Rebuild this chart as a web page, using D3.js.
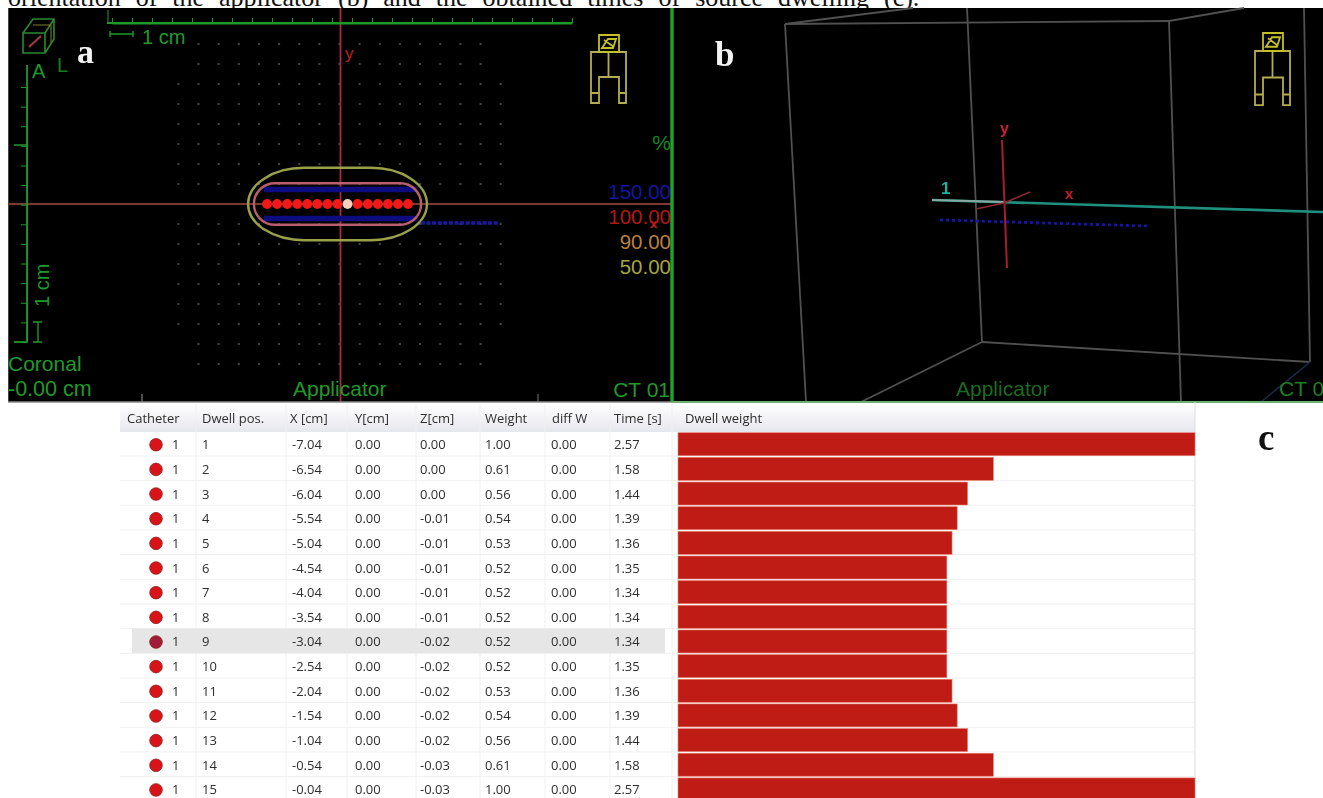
<!DOCTYPE html>
<html><head><meta charset="utf-8">
<script src="https://cdnjs.cloudflare.com/ajax/libs/d3/7.8.5/d3.min.js"></script>
<style>
html,body{margin:0;padding:0;background:#fff;overflow:hidden}
svg{display:block}
.soft{filter:blur(0.7px)}
</style></head><body>
<svg id="c" width="1323" height="798"></svg>
<script>
const caption = "orientation of the applicator (b) and the obtained times of source dwelling (c).";
const headers = ["Catheter","Dwell pos.","X [cm]","Y[cm]","Z[cm]","Weight","diff W","Time [s]","Dwell weight"];
const dwellPos = [1,2,3,4,5,6,7,8,9,10,11,12,13,14,15];
const xCm = [-7.04,-6.54,-6.04,-5.54,-5.04,-4.54,-4.04,-3.54,-3.04,-2.54,-2.04,-1.54,-1.04,-0.54,-0.04];
const yCm = [0,0,0,0,0,0,0,0,0,0,0,0,0,0,0];
const zCm = [0,0,0,-0.01,-0.01,-0.01,-0.01,-0.01,-0.02,-0.02,-0.02,-0.02,-0.02,-0.03,-0.03];
const weight = [1,0.61,0.56,0.54,0.53,0.52,0.52,0.52,0.52,0.52,0.53,0.54,0.56,0.61,1];
const diffW = [0,0,0,0,0,0,0,0,0,0,0,0,0,0,0];
const timeS = [2.57,1.58,1.44,1.39,1.36,1.35,1.34,1.34,1.34,1.35,1.36,1.39,1.44,1.58,2.57];
const selectedDwell = 9;
const doseLabels = ["150.00","100.00","90.00","50.00"];
const doseColors = ["#1414a0","#b01818","#b88040","#a4a444"];
const contourLevels = ["100","50"];
const contourLeft = [-7.69,-7.98];
const contourRight = [0.61,0.9];
const contourHalf = [1.04,1.81];
const contourColors = ["#b86070","#98a048"];
const band150Left = -7.2, band150Right = 0.4, band150Half = 0.72;
const rulerCm = d3.range(0,24);
const sideCm = d3.range(0,14);

const svg = d3.select("#c");
const G = "#1f9a2a";

// scales
const xA = d3.scaleLinear().domain([-7.04,-0.04]).range([267,408]);
const yA = d3.scaleLinear().domain([0,1]).range([204,184]);
const rulerX = d3.scaleLinear().domain([0,23]).range([112,572]);
const rulerY = d3.scaleLinear().domain([0,13]).range([87,342]);
const barX = d3.scaleLinear().domain([0,1]).range([678,1195]);
const rowY = d3.scaleBand().domain(dwellPos).range([432,432+24.64*15]).paddingInner(0.07).paddingOuter(0.03);

// caption
svg.append("text").attr("x",8).attr("y",6).attr("font-family","Liberation Serif").attr("font-size",26)
  .attr("word-spacing",8.5).attr("fill","#111").text(caption);

const root = svg.append("g").attr("class","soft");

// black panel
root.append("rect").attr("x",8).attr("y",8).attr("width",1315).attr("height",394).attr("fill","#000");
root.append("line").attr("x1",8.5).attr("x2",8.5).attr("y1",8).attr("y2",402).attr("stroke","#444");

/* ---------- panel a ---------- */
const a = root.append("g");
// dot grid
const gridX = d3.range(-10,9), gridY = d3.range(-8,9);
gridY.forEach(r=>gridX.forEach(c=>{
  const px = xA(-3.44+c*1), py = yA(0)+r*(-20);
  if(px<163||px>520) return;
  if(Math.abs(r)>=7 && Math.abs(c)>7) return;
  if(py<44||py>392) return;
  a.append("rect").attr("x",px-1).attr("y",py-1).attr("width",2).attr("height",2).attr("fill","#444");
}));
// crosshair
a.append("line").attr("x1",8).attr("x2",672).attr("y1",yA(0)).attr("y2",yA(0)).attr("stroke","#7a3a34").attr("stroke-width",2);
a.append("line").attr("x1",340.5).attr("x2",340.5).attr("y1",8).attr("y2",402).attr("stroke","#a82a48").attr("stroke-width",1.8);
// 150% band: top and bottom runs
[1,-1].forEach(s=>a.append("line").attr("x1",xA(band150Left)).attr("x2",xA(band150Right))
  .attr("y1",yA(s*band150Half)).attr("y2",yA(s*band150Half)).attr("stroke","#0c0c80").attr("stroke-width",5.5));
// contours
contourLevels.forEach((l,i)=>{
  const x0=xA(contourLeft[i]),x1=xA(contourRight[i]),h=yA(0)-yA(contourHalf[i]);
  a.append("rect").attr("x",x0).attr("y",yA(0)-h).attr("width",x1-x0).attr("height",2*h)
   .attr("rx",i==1?56:h).attr("ry",h).attr("fill","none").attr("stroke",contourColors[i])
   .attr("stroke-width",2.4);
});
// second catheter dwell points (offset, blue)
a.append("line").attr("x1",xA(0.6)).attr("x2",xA(4.45)).attr("y1",yA(-0.95)).attr("y2",yA(-0.95))
  .attr("stroke","#1a1aa0").attr("stroke-width",3.4).attr("stroke-dasharray","4 1.6");
// dwell points
a.selectAll("circle.d").data(xCm).join("circle").attr("class","d")
  .attr("cx",d=>xA(d)).attr("cy",yA(0)).attr("r",4.9)
  .attr("fill",(d,i)=>dwellPos[i]===selectedDwell?"#f4cfc0":"#f01818");
// rulers
const topAxis = d3.axisTop(rulerX).tickValues(rulerCm).tickFormat("").tickSize(5).tickSizeOuter(0);
const ra = a.append("g").attr("transform","translate(0,23)").call(topAxis);
ra.selectAll("line,path").attr("stroke",G);
ra.select("path").attr("stroke-width",2);
a.append("line").attr("x1",107).attr("x2",572).attr("y1",23).attr("y2",23).attr("stroke",G).attr("stroke-width",2);
a.append("line").attr("x1",108).attr("x2",108).attr("y1",10).attr("y2",23).attr("stroke",G);
const sideAxis = d3.axisLeft(rulerY).tickValues(sideCm).tickFormat("").tickSize(6).tickSizeOuter(0);
const rb = a.append("g").attr("transform","translate(27,0)").call(sideAxis);
rb.selectAll("line,path").attr("stroke",G);
a.append("line").attr("x1",27).attr("x2",27).attr("y1",65).attr("y2",342).attr("stroke",G).attr("stroke-width",1.8);
a.append("line").attr("x1",14).attr("x2",27).attr("y1",342).attr("y2",342).attr("stroke",G).attr("stroke-width",1.8);
a.append("line").attr("x1",14).attr("x2",27).attr("y1",145).attr("y2",145).attr("stroke",G).attr("stroke-width",1.5);
// 1cm markers
a.append("path").attr("d","M110 31V37M110 34H133M133 31V37").attr("stroke",G).attr("fill","none").attr("stroke-width",1.4);
a.append("path").attr("d","M33 322H42M38 322V342M33 342H42").attr("stroke",G).attr("fill","none").attr("stroke-width",1.4);
const sans="Liberation Sans";
function T(g,x,y,s,fs,c,anchor,w){return g.append("text").attr("x",x).attr("y",y).attr("font-family",sans).attr("font-size",fs).attr("fill",c).attr("font-weight",w||"normal").attr("text-anchor",anchor||"start").text(s);}
T(a,142,44,"1 cm",20,G);
a.append("text").attr("transform","translate(49,307) rotate(-90)").attr("font-family",sans).attr("font-size",20).attr("fill",G).text("1 cm");
T(a,32,78,"A",20,G);
T(a,57,72,"L",20,"#1a7a24");
// orientation cube
a.append("path").attr("d","M23 33H45V53H23ZM23 33L33 19H54V39L45 53M45 33L54 19").attr("fill","none").attr("stroke","#2a8a30").attr("stroke-width",1.6);
a.append("path").attr("d","M29 47L41 36").attr("stroke","#a04038").attr("stroke-width",2);
a.append("path").attr("d","M33 25H51V43").attr("stroke","#808030").attr("fill","none");
T(a,8,371,"Coronal",21,G);
T(a,8,396,"-0.00 cm",21.5,G);
T(a,293,396,"Applicator",21,G);
T(a,670,397,"CT 01",21,G,"end");
T(a,345,59,"y",17,"#c02020");
T(a,650,228,"x",13,"#d02020","start","bold");
T(a,671,150,"%",21,"#158a20","end");
doseLabels.forEach((s,i)=>T(a,671,199+i*25,s,20.5,doseColors[i],"end"));

// doll
function doll(g,x,y,sx,sy){
  const d=g.append("g").attr("transform",`translate(${x},${y}) scale(${sx},${sy})`).attr("fill","none").attr("stroke-width",1.8);
  d.append("path").attr("stroke","#b4ac50")
   .attr("d","M0 17H35V68H28V42H8V68H0ZM17.5 17V42M0 58H8M28 58H35");
  d.append("path").attr("stroke","#c4c028")
   .attr("d","M8 0H28V17H8ZM11 13L17 4H25L22 13ZM13 5L23 12");
}
doll(a,591,35,1,1);
doll(root,1255,33,1,1.06);

// green divider
root.append("line").attr("x1",672).attr("x2",672).attr("y1",8).attr("y2",402).attr("stroke","#23a02b").attr("stroke-width",3.4);

/* ---------- panel b ---------- */
const b = root.append("g");
const boxSegs=[[785,24,1169,21],[785,24,913,8],[1169,21,1244,8],[785,24,806,402],[967,8,982,342],[1169,21,1181,402],[1304,8,1310,362],[982,342,1310,362],[982,342,861,402]];
b.selectAll("line.box").data(boxSegs).join("line").attr("class","box")
 .attr("x1",d=>d[0]).attr("y1",d=>d[1]).attr("x2",d=>d[2]).attr("y2",d=>d[3]).attr("stroke","#505050").attr("stroke-width",1.8);
b.append("line").attr("x1",1310).attr("y1",362).attr("x2",1261).attr("y2",402).attr("stroke","#1c2a48").attr("stroke-width",1.6);
b.append("line").attr("x1",932).attr("y1",200).attr("x2",1323).attr("y2",212).attr("stroke","#1f8f80").attr("stroke-width",2.6);
b.append("line").attr("x1",932).attr("y1",200).attr("x2",1005).attr("y2",202).attr("stroke","#8aa8a0").attr("stroke-width",2);
b.append("line").attr("x1",940).attr("y1",220).attr("x2",1148).attr("y2",226).attr("stroke","#1414a8").attr("stroke-width",2.8).attr("stroke-dasharray","3 3");
b.append("line").attr("x1",1002).attr("y1",140).attr("x2",1007).attr("y2",268).attr("stroke","#a81c30").attr("stroke-width",2);
b.append("path").attr("d","M976 209L1004 203L1030 192").attr("stroke","#8a2a30").attr("stroke-width",1.6).attr("fill","none");
T(b,941,194,"1",17,"#20b0a0","start","bold");
T(b,1000,134,"y",16,"#c82030","start","bold");
T(b,1065,199,"x",15,"#c82030","start","bold");
T(b,956,396,"Applicator",21,"#176e20");
T(b,1279,396,"CT 0",21,"#1c8224");

/* panel letters */
const ser="Liberation Serif";
root.append("text").attr("x",77).attr("y",63).attr("font-family",ser).attr("font-weight","bold").attr("font-size",34).attr("fill","#f2f2f2").text("a");
root.append("text").attr("x",715).attr("y",66).attr("font-family",ser).attr("font-weight","bold").attr("font-size",35).attr("fill","#f2f2f2").text("b");
root.append("text").attr("x",1258).attr("y",450).attr("font-family",ser).attr("font-weight","bold").attr("font-size",37).attr("fill","#111").text("c");

// tiny marks on the panel bottom
root.append("line").attr("x1",8).attr("x2",672).attr("y1",402).attr("y2",402).attr("stroke","#888").attr("stroke-width",1.5);
root.append("line").attr("x1",672).attr("x2",1323).attr("y1",402).attr("y2",402).attr("stroke","#6bb070").attr("stroke-width",2);
root.append("line").attr("x1",142).attr("x2",142).attr("y1",394).attr("y2",402).attr("stroke","#999");
root.append("line").attr("x1",538).attr("x2",538).attr("y1",394).attr("y2",402).attr("stroke","#777");

/* ---------- table ---------- */
const t = root.append("g");
const defs = svg.append("defs");
const lg = defs.append("linearGradient").attr("id","hd").attr("x1",0).attr("x2",0).attr("y1",0).attr("y2",1);
lg.append("stop").attr("offset",0).attr("stop-color","#ffffff");
lg.append("stop").attr("offset",1).attr("stop-color","#e6e6ee");
t.append("rect").attr("x",120).attr("y",404).attr("width",1075).attr("height",28).attr("fill","url(#hd)");
const colX=[127,202,290,355,420,485,552,614,685];
const valX=[172,202,292,355,420,485,551,614];
const colSep=[196,286,347,416,480,545,610,672];
colSep.forEach(x=>t.append("line").attr("x1",x).attr("x2",x).attr("y1",404).attr("y2",798).attr("stroke","#f0f0f0"));
t.append("line").attr("x1",1195).attr("x2",1195).attr("y1",402).attr("y2",798).attr("stroke","#dcdcdc");
const tf="Open Sans", ink="#2e2e2e";
t.selectAll("text.h").data(headers).join("text").attr("class","h").attr("x",(d,i)=>colX[i]).attr("y",423)
 .attr("font-family",tf).attr("font-size",13).attr("fill",ink).text(d=>d);
const fmt=v=>d3.format(".2f")(v).replace("\u2212","-");
dwellPos.forEach((p,i)=>{
  const top=rowY(p)-rowY.bandwidth()*0.02, cy=top+rowY.bandwidth()/2;
  if(p===selectedDwell) t.append("rect").attr("x",132).attr("y",cy-12.5).attr("width",533).attr("height",25).attr("fill","#e6e6e6");
  t.append("line").attr("x1",120).attr("x2",1195).attr("y1",cy+12.3).attr("y2",cy+12.3).attr("stroke","#f0f0f0");
  t.append("rect").attr("x",barX(0)).attr("y",rowY(p)).attr("width",barX(weight[i])-barX(0)).attr("height",rowY.bandwidth())
    .attr("fill","#c01c16").attr("stroke","#e87868").attr("stroke-width",0.6);
  t.append("circle").attr("cx",156).attr("cy",cy+1).attr("r",6.3)
    .attr("fill",p===selectedDwell?"#a01c38":"#d81418").attr("stroke","#8a2020").attr("stroke-width",0.8);
  const vals=[1,p,fmt(xCm[i]),fmt(yCm[i]),fmt(zCm[i]),fmt(weight[i]),fmt(diffW[i]),fmt(timeS[i])];
  vals.forEach((v,j)=>t.append("text").attr("x",valX[j]).attr("y",cy+5.5).attr("font-family",tf).attr("font-size",13).attr("fill",ink).text(v));
});
</script>
</body></html>
